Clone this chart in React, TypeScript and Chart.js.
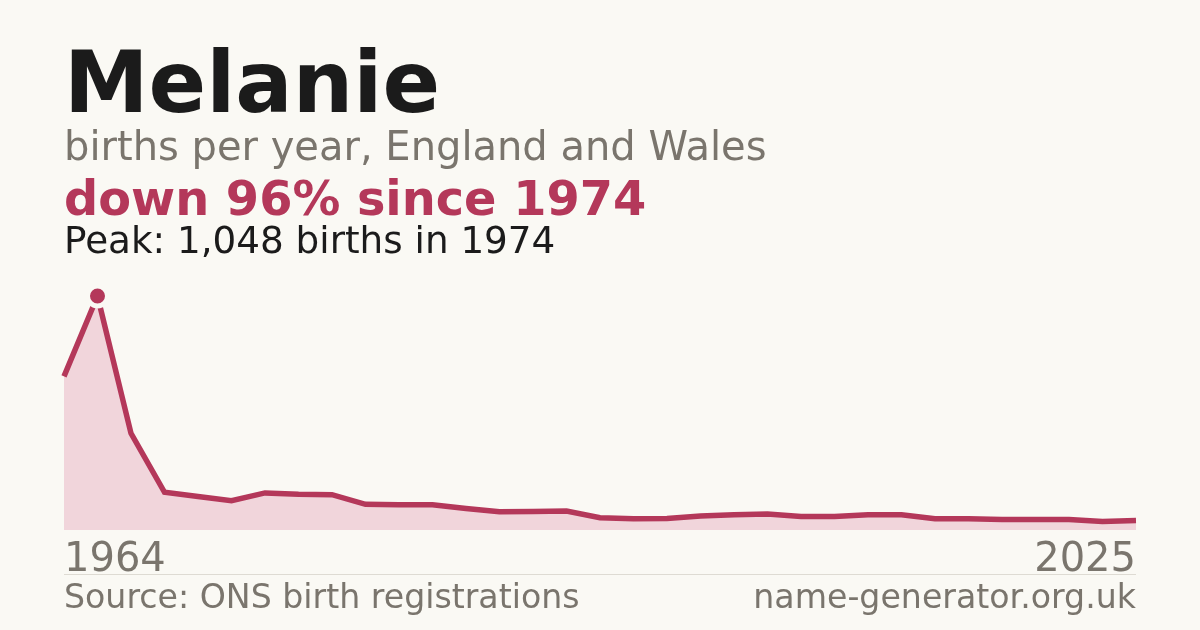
import React, { useEffect, useRef } from "react";
import { Chart, registerables } from "chart.js";

Chart.register(...registerables);

const NAME = "Melanie";
const SUBTITLE = "births per year, England and Wales";
const HEADLINE = "down 96% since 1974";
const PEAK_TEXT = "Peak: 1,048 births in 1974";
const SOURCE = "Source: ONS birth registrations";
const SITE = "name-generator.org.uk";

const years: string[] = [
  "1964", "1974", "1984", "1994",
  "1997", "1998", "1999", "2000", "2001", "2002", "2003", "2004", "2005",
  "2006", "2007", "2008", "2009", "2010", "2011", "2012", "2013", "2014",
  "2015", "2016", "2017", "2018", "2019", "2020", "2021", "2022", "2023",
  "2024", "2025",
];

const births: number[] = [
  688, 1048, 433, 169,
  150, 131, 166, 160, 158, 115, 113, 113, 96, 82, 83, 85,
  55, 50, 51, 63, 68, 72, 60, 60, 68, 68, 50, 50, 47, 47, 47, 38, 42,
];

const BG = "#faf9f4";
const RED = "#b4385a";
const FILL = "#f1d5db";
const GRAY = "#7a756d";
const DARK = "#1b1b1b";
const FONT = "'DejaVu Sans', sans-serif";

export default function App() {
  const ref = useRef<HTMLCanvasElement | null>(null);

  useEffect(() => {
    if (!ref.current) return;
    const peak = Math.max(...births);
    const peakIdx = births.indexOf(peak);
    const chart = new Chart(ref.current, {
      type: "line",
      data: {
        labels: years,
        datasets: [
          {
            data: births,
            borderColor: RED,
            borderWidth: 5.5,
            backgroundColor: FILL,
            fill: "origin",
            tension: 0,
            clip: false as any,
            pointRadius: births.map((_, i) => (i === peakIdx ? 10 : 0)),
            pointHoverRadius: 0,
            pointBackgroundColor: RED,
            pointBorderColor: BG,
            pointBorderWidth: 5,
          },
        ],
      },
      options: {
        animation: false,
        responsive: false,
        maintainAspectRatio: false,
        layout: { padding: { left: 64, right: 64, top: 296, bottom: 100 } },
        plugins: { legend: { display: false }, tooltip: { enabled: false } },
        scales: {
          x: { type: "category", display: false, offset: false },
          y: { display: false, min: 0, max: peak },
        },
      },
    });
    return () => chart.destroy();
  }, []);

  const txt = (style: React.CSSProperties): React.CSSProperties => ({
    position: "absolute",
    margin: 0,
    lineHeight: 1,
    whiteSpace: "nowrap",
    fontFamily: FONT,
    ...style,
  });

  return (
    <div
      style={{
        position: "fixed",
        left: 0,
        top: 0,
        width: 1200,
        height: 630,
        background: BG,
        overflow: "hidden",
      }}
    >
      <canvas
        ref={ref}
        width={1200}
        height={630}
        style={{ position: "absolute", left: 0, top: 0, width: 1200, height: 630 }}
      />
      <div style={txt({ left: 64, top: 40, fontSize: 85, fontWeight: 700, color: DARK })}>{NAME}</div>
      <div style={txt({ left: 64, top: 126, fontSize: 40, color: GRAY })}>{SUBTITLE}</div>
      <div style={txt({ left: 64, top: 174.5, fontSize: 47.8, fontWeight: 700, color: RED })}>{HEADLINE}</div>
      <div style={txt({ left: 64, top: 222, fontSize: 37.3, color: DARK })}>{PEAK_TEXT}</div>
      <div style={txt({ left: 64, top: 537, fontSize: 40, color: GRAY })}>{years[0]}</div>
      <div style={txt({ right: 64, top: 537, fontSize: 40, color: GRAY, textAlign: "right" })}>
        {years[years.length - 1]}
      </div>
      <div style={{ position: "absolute", left: 64, top: 574, width: 1072, height: 1, background: "#dedbd3" }} />
      <div style={txt({ left: 64, top: 580, fontSize: 33.2, color: GRAY })}>{SOURCE}</div>
      <div style={txt({ right: 64, top: 580, fontSize: 33.2, color: GRAY, textAlign: "right" })}>{SITE}</div>
    </div>
  );
}
